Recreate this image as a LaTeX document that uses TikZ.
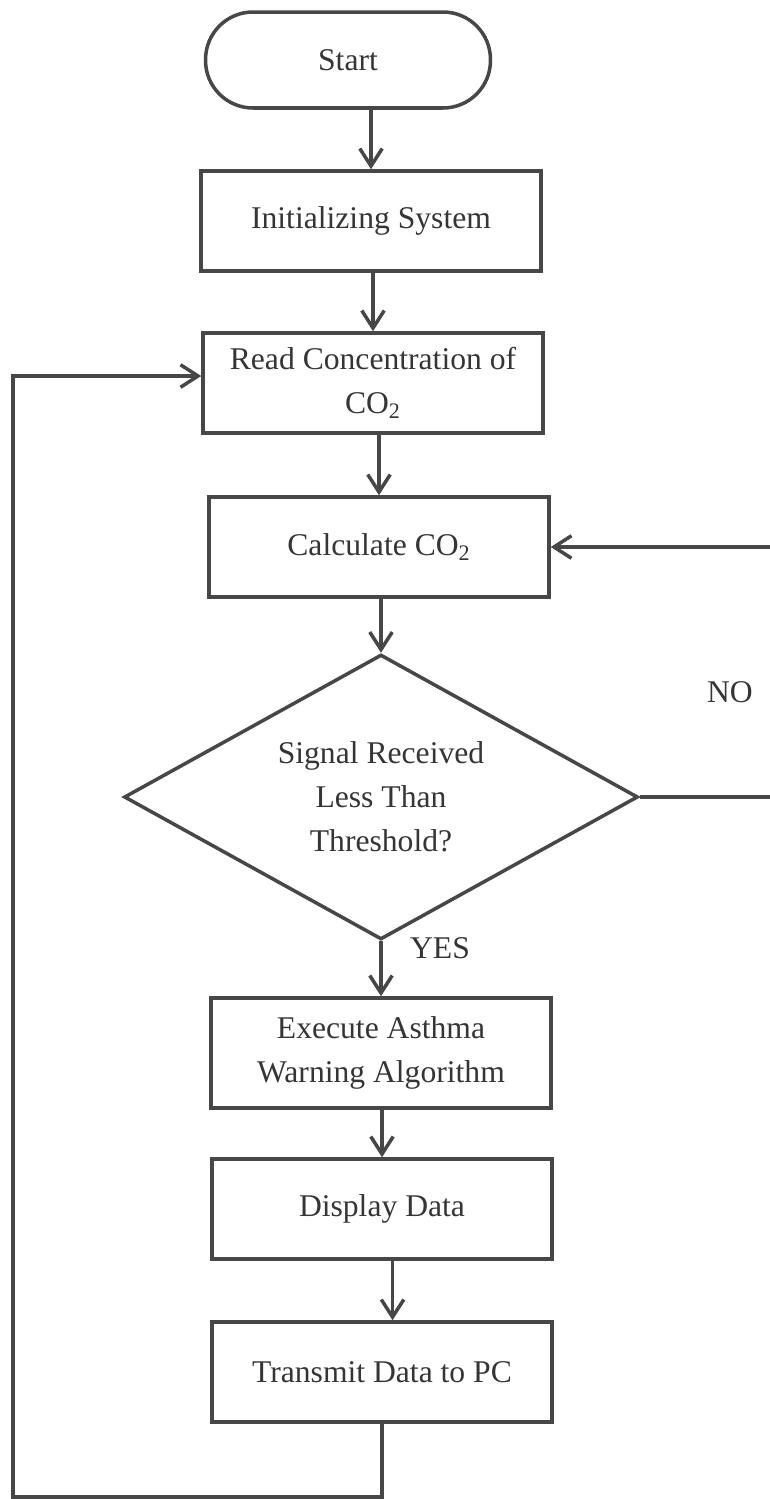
\documentclass[tikz,border=0pt]{standalone}
\usepackage{fontspec}
\setmainfont{Liberation Serif}
\usetikzlibrary{shapes.geometric,arrows.meta}
\definecolor{linegray}{HTML}{474747}
\definecolor{textgray}{HTML}{353535}

\begin{document}
\begin{tikzpicture}[x=0.02cm,y=-0.02cm,
  line width=2pt,
  every node/.style={text=textgray, font=\fontsize{18}{25}\selectfont},
  box/.style={draw=linegray, rectangle, minimum width=6.8cm, minimum height=2cm, align=center},
  terminal/.style={draw=linegray, rectangle, rounded corners=0.95cm, minimum width=5.7cm, minimum height=1.92cm},
  decision/.style={draw=linegray, diamond, aspect=1.8, minimum width=10.28cm, minimum height=5.7cm, align=center, inner sep=0pt},
  flow/.style={draw=linegray, -{Straight Barb[length=3.5mm, width=4.5mm]}},
  link/.style={draw=linegray}
]
  % area of the picture
  \useasboundingbox (0,0) rectangle (769,1499);

  % the steps
  \node[terminal] (start) at (348,60) {Start};
  \node[box] (init) at (371,221) {Initializing System};
  \node[box] (read) at (373,383) {Read Concentration of\\CO\textsubscript{2}};
  \node[box] (calc) at (379,547) {Calculate CO\textsubscript{2}};
  \node[decision] (check) at (381,797) {Signal Received\\Less Than\\Threshold?};
  \node[box, minimum height=2.2cm] (exec) at (381,1053) {Execute Asthma\\Warning Algorithm};
  \node[box] (show) at (382,1209) {Display Data};
  \node[box] (send) at (382,1372) {Transmit Data to PC};

  % labels of the branches
  \node (yes) at (440,948) {YES};
  \node (no) at (730,692) {NO};

  % corners of the return lines
  \coordinate (loopbottom) at (13,1497);
  \coordinate (loopleft) at (13,376);
  \coordinate (noright) at (775,797);

  % arrows down
  \draw[flow] (start.south -| init.north) -- (init.north);
  \draw[flow] (init.south -| read.north) -- (read.north);
  \draw[flow] (read.south -| calc.north) -- (calc.north);
  \draw[flow] (calc.south -| check.north) -- (check.north);
  \draw[flow] (check.south) -- (exec.north);
  \draw[flow] (exec.south -| show.north) -- (show.north);
  \draw[flow] ([xshift=6]show.south) -- ([xshift=6]send.north);

  % back to the top
  \draw[flow] (send.south) |- (loopbottom) -- (loopleft) -- (loopleft -| read.west);
  \draw[flow] (check.east) -- (check.east -| noright) |- (calc.east);
\end{tikzpicture}
\end{document}
